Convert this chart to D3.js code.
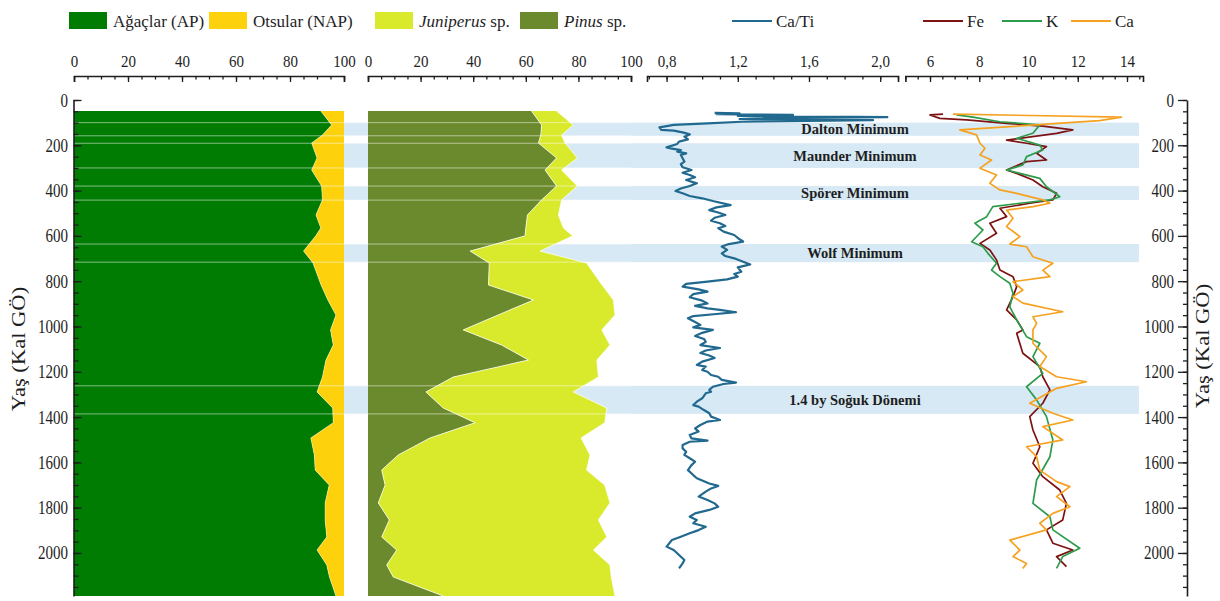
<!DOCTYPE html>
<html>
<head>
<meta charset="utf-8">
<script src="https://cdn.jsdelivr.net/npm/d3@7"></script>
<style>
  body { margin: 0; background: #fff; }
  svg { display: block; }
  text { font-family: "Liberation Serif", "Times New Roman", serif; fill: #1e1e1e; }
</style>
</head>
<body>
<svg id="chart" width="1220" height="601"></svg>
<script>
// ---------- Pollen (% of total) ----------
const pollenAge = [49, 110, 155, 190, 256, 309, 380, 441, 508, 565, 600, 667, 720, 817, 883, 949, 1015, 1082, 1148, 1223, 1289, 1360, 1425, 1492, 1567, 1634, 1700, 1779, 1854, 1929, 1987, 2053, 2106, 2190];
const apPct  = [91.4, 95.4, 92, 88, 90, 88, 91.7, 92, 89.6, 91.4, 89.5, 85, 88.5, 91.5, 94, 97, 95, 96, 93.3, 92, 90, 95.8, 96, 87.7, 89, 89.3, 94.5, 93, 93, 93.6, 90, 93.6, 94.6, 97];
const napPct = [8.6, 4.6, 8, 12, 10, 12, 8.3, 8, 10.4, 8.6, 10.5, 15, 11.5, 8.5, 6, 3, 5, 4, 6.7, 8, 10, 4.2, 4, 12.3, 11, 10.7, 5.5, 7, 7, 6.4, 10, 6.4, 5.4, 3];
const pinusPct = [62.2, 66, 65.7, 64.8, 71.7, 67.3, 71.7, 66, 60.6, 60, 59.7, 38.8, 46.1, 45.8, 62.9, 49.5, 36.2, 50.8, 61, 32.4, 22, 28.6, 40.7, 23.6, 11.5, 5.2, 6.5, 3.9, 8.1, 5.2, 10.9, 7.1, 9.6, 28.6];
const juniperusPct = [9.5, 12, 7.9, 10.1, 7.9, 6.3, 7.9, 7.6, 11.8, 14.3, 18.1, 26.6, 37, 43.2, 30.4, 44.4, 52.7, 41.2, 26, 55.2, 56, 62.2, 49.3, 57.4, 72.9, 77.9, 83.5, 88.1, 79.5, 85.6, 74.8, 84.9, 82.9, 65.3];

// ---------- XRF Ca/Ti ratio: [age cal BP, ratio] ----------
const caTi = [
  [57, 1.07], [59, 1.21], [62, 1.08], [66, 1.51], [70, 1.20], [76, 2.04], [80, 1.40], [84, 1.21], [89, 1.96], [96, 1.22],
  [103, 1.03], [110, 0.84], [121, 0.76], [132, 0.77], [135, 0.84], [143, 0.89], [152, 0.93], [162, 0.90], [174, 0.92], [184, 0.87],
  [194, 0.86], [209, 0.80], [215, 0.83], [221, 0.88], [228, 0.86], [236, 0.91], [243, 0.88], [257, 0.89], [272, 0.90], [283, 0.88],
  [297, 0.89], [309, 0.94], [321, 0.89], [331, 0.93], [341, 0.96], [353, 0.91], [368, 0.97], [380, 0.93], [391, 0.88], [402, 0.85],
  [412, 0.89], [424, 0.93], [434, 1.00], [446, 1.06], [464, 1.16], [474, 1.08], [486, 1.04], [497, 1.09], [508, 1.13], [520, 1.07],
  [533, 1.05], [544, 1.10], [556, 1.13], [566, 1.09], [581, 1.12], [596, 1.18], [615, 1.21], [625, 1.23], [636, 1.15], [647, 1.11],
  [662, 1.14], [677, 1.11], [689, 1.13], [699, 1.18], [714, 1.23], [726, 1.27], [739, 1.20], [758, 1.22], [768, 1.18], [780, 1.20],
  [792, 1.14], [802, 1.03], [812, 0.91], [824, 0.89], [836, 0.98], [846, 1.03], [857, 0.95], [871, 0.93], [886, 1.00], [898, 1.03],
  [909, 0.96], [920, 1.03], [927, 1.10], [937, 1.19], [945, 1.08], [954, 0.95], [964, 0.92], [980, 0.96], [993, 0.99], [1004, 0.95],
  [1015, 1.06], [1028, 1.00], [1042, 0.96], [1055, 1.01], [1068, 1.02], [1082, 0.99], [1095, 1.10], [1106, 1.02], [1117, 0.99], [1128, 1.04],
  [1139, 1.07], [1155, 1.00], [1170, 0.97], [1177, 1.02], [1192, 1.00], [1200, 1.03], [1214, 1.05], [1222, 1.09], [1236, 1.11], [1248, 1.19],
  [1254, 1.12], [1266, 1.06], [1280, 1.04], [1288, 1.05], [1295, 1.02], [1317, 1.00], [1332, 0.97], [1347, 0.95], [1354, 0.98], [1369, 1.01],
  [1383, 1.04], [1398, 1.05], [1413, 1.10], [1420, 1.03], [1435, 0.99], [1450, 0.96], [1464, 0.98], [1479, 0.93], [1494, 0.94], [1504, 1.03],
  [1509, 0.93], [1523, 0.89], [1538, 0.89], [1553, 0.91], [1567, 0.90], [1582, 0.93], [1597, 0.96], [1612, 0.94], [1634, 0.92], [1656, 0.95],
  [1670, 0.97], [1693, 1.04], [1704, 1.09], [1715, 1.05], [1729, 1.02], [1751, 0.98], [1766, 1.03], [1781, 1.07], [1796, 1.09], [1810, 1.04],
  [1825, 0.96], [1840, 0.93], [1854, 0.97], [1869, 0.95], [1884, 1.02], [1899, 0.98], [1913, 0.93], [1928, 0.88], [1943, 0.83], [1972, 0.80],
  [1987, 0.84], [2009, 0.87], [2031, 0.90], [2046, 0.89], [2068, 0.87]
];

// ---------- XRF elements: [age cal BP, kcps] ----------
const fe = [
  [62, 6.53], [66, 6.00], [81, 6.40], [88, 7.49], [103, 9.11], [115, 10.58], [132, 11.80], [147, 11.14], [177, 9.11], [191, 9.92],
  [206, 10.73], [235, 10.33], [265, 10.73], [272, 9.92], [309, 9.11], [324, 9.52], [353, 10.18], [383, 10.58], [412, 11.14], [441, 10.99],
  [456, 10.05], [478, 8.84], [515, 9.11], [544, 8.43], [588, 8.70], [633, 8.03], [662, 8.43], [706, 8.70], [751, 8.84], [780, 9.37],
  [824, 9.52], [868, 9.37], [927, 9.11], [971, 9.52], [1015, 9.77], [1030, 9.52], [1118, 9.77], [1177, 10.46], [1222, 10.58], [1280, 10.87],
  [1339, 10.58], [1398, 10.05], [1457, 10.18], [1531, 10.46], [1604, 10.18], [1663, 10.58], [1722, 11.27], [1781, 11.54], [1854, 11.39], [1898, 10.73],
  [1957, 10.99], [1987, 11.80], [2016, 11.14], [2060, 11.54]
];
const kEl = [
  [66, 7.08], [76, 7.74], [96, 8.84], [110, 10.46], [147, 10.18], [169, 9.52], [199, 10.46], [221, 10.58], [250, 9.92], [287, 9.77],
  [309, 9.11], [324, 9.65], [346, 10.46], [383, 10.73], [427, 11.27], [441, 10.87], [456, 9.65], [471, 8.55], [515, 8.30], [544, 7.82],
  [574, 8.15], [626, 7.69], [648, 8.15], [677, 8.35], [721, 8.70], [751, 8.50], [780, 8.84], [809, 9.24], [853, 9.37], [913, 9.24],
  [971, 9.52], [1045, 9.92], [1074, 10.46], [1133, 10.18], [1207, 10.58], [1266, 9.92], [1324, 10.33], [1398, 10.73], [1501, 10.99], [1575, 10.87],
  [1678, 10.33], [1781, 10.18], [1840, 10.87], [1898, 10.99], [1979, 12.08], [2016, 11.39], [2068, 11.14]
];
const caEl = [
  [62, 6.93], [76, 13.77], [91, 12.89], [132, 7.21], [154, 7.89], [191, 8.03], [213, 8.23], [243, 8.03], [265, 8.50], [301, 8.03],
  [331, 8.70], [368, 8.43], [397, 8.84], [412, 9.52], [441, 10.58], [456, 10.87], [471, 10.18], [486, 9.11], [522, 9.37], [559, 9.11],
  [603, 9.65], [636, 9.24], [648, 9.92], [692, 10.18], [721, 10.99], [751, 10.58], [780, 10.87], [802, 9.37], [839, 9.77], [868, 9.37],
  [897, 9.77], [935, 11.39], [957, 10.18], [986, 10.33], [1015, 10.18], [1074, 10.18], [1133, 10.73], [1177, 10.46], [1222, 11.14], [1244, 12.35],
  [1273, 11.14], [1339, 10.05], [1383, 10.99], [1413, 11.80], [1442, 10.58], [1501, 11.39], [1531, 9.92], [1575, 10.33], [1634, 10.46], [1685, 11.14],
  [1707, 11.68], [1751, 11.14], [1796, 11.68], [1825, 10.99], [1869, 10.46], [1898, 10.73], [1943, 9.24], [1987, 9.65], [2016, 9.37], [2046, 9.92],
  [2068, 9.77]
];

// ---------- Cold periods (cal BP) ----------
const bandNames = ["Dalton Minimum", "Maunder Minimum", "Spörer Minimum", "Wolf Minimum", "1.4 by Soğuk Dönemi"];
const bandStart = [100, 191, 380, 636, 1262];
const bandEnd   = [158, 300, 442, 716, 1386];

// ---------- Axis ticks ----------
const pctTicks = [0, 20, 40, 60, 80, 100];
const ratioTicks = [0.8, 1.2, 1.6, 2.0];
const xrfTicks = [6, 8, 10, 12, 14];
const ageTicks = [0, 200, 400, 600, 800, 1000, 1200, 1400, 1600, 1800, 2000];

// ---------- Legend ----------
const legendSwatch = [
  { label: "Ağaçlar (AP)", color: "#007c03" },
  { label: "Otsular (NAP)", color: "#fdd20d" },
  { label: "Juniperus", suffix: " sp.", color: "#d9e92c" },
  { label: "Pinus", suffix: " sp.", color: "#6b8a2d" }
];
const legendLines = [
  { label: "Ca/Ti", color: "#21698e" },
  { label: "Fe", color: "#7c1212" },
  { label: "K", color: "#2c9c4c" },
  { label: "Ca", color: "#f6a11f" }
];

const C = {
  ap: "#007c03", nap: "#fdd20d", jun: "#d9e92c", pin: "#6b8a2d",
  band: "#d7e9f4", cati: "#21698e", fe: "#7c1212", k: "#2c9c4c", ca: "#f6a11f"
};

const svg = d3.select("#chart");

// Scales
const y = d3.scaleLinear().domain([0, 2190]).range([100, 596]);
const xP1 = d3.scaleLinear().domain([0, 100]).range([74, 344]);
const xP2 = d3.scaleLinear().domain([0, 100]).range([368, 631]);
const xR = d3.scaleLinear().domain([0.69, 2.1]).range([647, 898]);
const xE = d3.scaleLinear().domain([5, 14.65]).range([905.4, 1143]);

// Cold-period bands (behind everything)
const bands = bandNames.map((n, i) => ({ name: n, a: bandStart[i], b: bandEnd[i] }));
svg.append("g").selectAll("rect").data(bands).join("rect")
  .attr("x", xP1(0)).attr("width", 1139 - xP1(0))
  .attr("y", d => y(d.a)).attr("height", d => y(d.b) - y(d.a))
  .attr("fill", C.band);

// Pollen panels
const pollen = pollenAge.map((a, i) => ({
  age: a, ap: apPct[i], nap: napPct[i], pin: pinusPct[i], jun: juniperusPct[i]
}));
const areaGen = (x, f0, f1) => d3.area().y(d => y(d.age)).x0(d => x(f0(d))).x1(d => x(f1(d)));

const gp = svg.append("g");
gp.append("path").datum(pollen).attr("fill", C.ap)
  .attr("d", areaGen(xP1, d => 0, d => d.ap));
gp.append("path").datum(pollen).attr("fill", C.nap)
  .attr("d", areaGen(xP1, d => d.ap, d => d.ap + d.nap));
gp.append("path").datum(pollen).attr("fill", C.pin)
  .attr("d", areaGen(xP2, d => 0, d => d.pin));
gp.append("path").datum(pollen).attr("fill", C.jun)
  .attr("d", areaGen(xP2, d => d.pin, d => d.pin + d.jun));
// thin light boundaries between stacked fills
gp.append("path").datum(pollen).attr("fill", "none").attr("stroke", "#fff").attr("stroke-opacity", 0.5).attr("stroke-width", 0.8)
  .attr("d", d3.line().y(d => y(d.age)).x(d => xP1(d.ap)));
gp.append("path").datum(pollen).attr("fill", "none").attr("stroke", "#fff").attr("stroke-opacity", 0.8).attr("stroke-width", 0.9)
  .attr("d", d3.line().y(d => y(d.age)).x(d => xP2(d.pin)));
gp.append("path").datum(pollen).attr("fill", "none").attr("stroke", "#fff").attr("stroke-opacity", 0.8).attr("stroke-width", 0.9)
  .attr("d", d3.line().y(d => y(d.age)).x(d => xP2(d.pin + d.jun)));

// faint edge lines of the bands over the pollen fills
const edges = bands.flatMap(d => [d.a, d.b]);
gp.selectAll("line.edge").data(edges).join("line")
  .attr("class", "edge")
  .attr("x1", xP1(0)).attr("x2", xP2(100))
  .attr("y1", d => y(d)).attr("y2", d => y(d))
  .attr("stroke", "#fff").attr("stroke-opacity", 0.5).attr("stroke-width", 1);

// Band labels
svg.append("g").selectAll("text").data(bands).join("text")
  .attr("x", 855).attr("y", d => (y(d.a) + y(d.b)) / 2 + 5)
  .attr("text-anchor", "middle")
  .style("font-size", "14.5px").style("font-weight", "bold")
  .text(d => d.name);

// Curves
function drawLine(pts, x, color, w) {
  svg.append("path").datum(pts)
    .attr("fill", "none").attr("stroke", color).attr("stroke-width", w)
    .attr("stroke-linejoin", "round")
    .attr("d", d3.line().y(d => y(d[0])).x(d => x(d[1])));
}
drawLine(caTi, xR, C.cati, 2.2);
drawLine(fe, xE, C.fe, 1.7);
drawLine(kEl, xE, C.k, 1.7);
drawLine(caEl, xE, C.ca, 1.7);

// ---------- Top axes ----------
const axisY = 76;
function topAxis(scale, ticks, minor, fmt) {
  const g = svg.append("g").attr("transform", `translate(0,${axisY})`);
  g.call(d3.axisTop(scale).tickValues(minor).tickSizeInner(-3.5).tickSizeOuter(-6).tickFormat(""));
  const gm = svg.append("g").attr("transform", `translate(0,${axisY})`);
  gm.call(d3.axisTop(scale).tickValues(ticks).tickSizeInner(-6).tickSizeOuter(0).tickPadding(9).tickFormat(fmt));
  gm.select(".domain").remove();
  [g, gm].forEach(s => {
    s.selectAll("line").attr("stroke", "#1e1e1e").attr("stroke-width", 1.3);
    s.selectAll(".domain").attr("stroke", "#1e1e1e").attr("stroke-width", 1.6);
  });
  gm.selectAll("text")
    .attr("y", -7.6).attr("dy", null)
    .attr("transform", "scale(1,1.18)")
    .style("font-size", "15px").attr("fill", "#1e1e1e");
}
const commaFmt = d => d3.format(".1f")(d).replace(".", ",");
topAxis(xP1, pctTicks, d3.range(0, 101, 5), d3.format("d"));
topAxis(xP2, pctTicks, d3.range(0, 101, 5), d3.format("d"));
topAxis(xR, ratioTicks, d3.range(0.7, 2.101, 0.1), commaFmt);
topAxis(xE, xrfTicks, d3.range(5, 14.65, 0.5), d3.format("d"));

// ---------- Age axes ----------
const minorAge = d3.range(0, 2190, 50);
function ageAxis(xPos, left) {
  const minorG = svg.append("g").attr("transform", `translate(${xPos},0)`)
    .call(d3.axisLeft(y).tickValues(minorAge).tickSizeInner(left ? -5 : 4).tickSizeOuter(0).tickFormat(""));
  const majorG = svg.append("g").attr("transform", `translate(${xPos},0)`)
    .call(d3.axisLeft(y).tickValues(ageTicks).tickSizeInner(left ? -8 : 9).tickSizeOuter(0)
      .tickPadding(left ? 5.5 : 4).tickFormat(d3.format("d")));
  majorG.select(".domain").remove();
  [minorG, majorG].forEach(s => {
    s.selectAll("line").attr("stroke", "#1e1e1e").attr("stroke-width", 1.3);
    s.selectAll(".domain").attr("stroke", "#1e1e1e").attr("stroke-width", 1.6);
  });
  majorG.selectAll("text")
    .attr("transform", "scale(1,1.25)")
    .style("font-size", "15px").attr("fill", "#1e1e1e");
}
ageAxis(73.5, true);
ageAxis(1187, false);

// Axis titles
[[25, 349], [1209, 346]].forEach(([tx, ty]) => {
  svg.append("text")
    .attr("transform", `translate(${tx},${ty}) rotate(-90) scale(1.22,1)`)
    .attr("text-anchor", "middle")
    .style("font-size", "18.5px")
    .attr("fill", "#2a2a2a")
    .text("Yaş (Kal GÖ)");
});

// ---------- Legend ----------
const swX = [69, 209, 375, 520];
const lg = svg.append("g");
legendSwatch.forEach((d, i) => {
  lg.append("rect").attr("x", swX[i]).attr("y", 12).attr("width", 38).attr("height", 17).attr("fill", d.color);
  const t = lg.append("text").attr("x", swX[i] + 44).attr("y", 27).style("font-size", "17px");
  if (d.suffix) {
    t.append("tspan").style("font-style", "italic").text(d.label);
    t.append("tspan").text(d.suffix);
  } else {
    t.text(d.label);
  }
});
const lnX = [732, 923, 1002, 1071];
legendLines.forEach((d, i) => {
  lg.append("line").attr("x1", lnX[i]).attr("x2", lnX[i] + 40).attr("y1", 21).attr("y2", 21)
    .attr("stroke", d.color).attr("stroke-width", 2);
  lg.append("text").attr("x", lnX[i] + 44).attr("y", 27).style("font-size", "17px").text(d.label);
});
</script>
</body>
</html>
